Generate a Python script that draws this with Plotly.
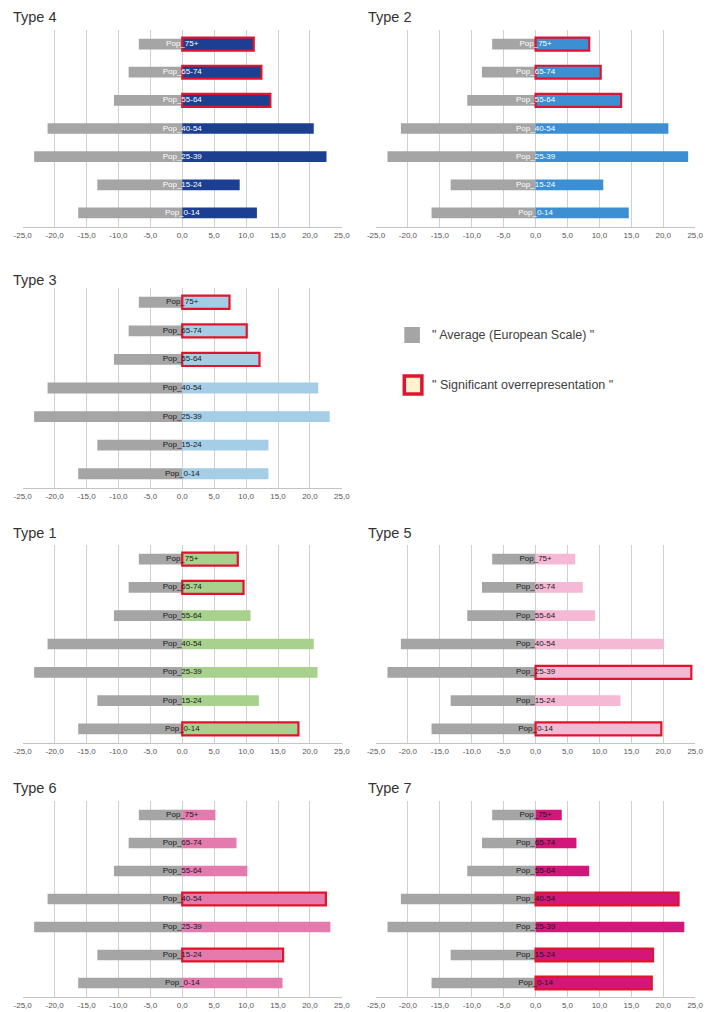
import plotly.graph_objects as go

# ---------------- data ----------------
age_groups = ["Pop_75+", "Pop_65-74", "Pop_55-64", "Pop_40-54", "Pop_25-39", "Pop_15-24", "Pop_0-14"]
average_eu = [-6.8, -8.4, -10.7, -21.1, -23.2, -13.3, -16.3]

type4 = [11.2, 12.4, 13.8, 20.6, 22.6, 9.0, 11.7]
type2 = [8.4, 10.2, 13.4, 20.8, 23.9, 10.6, 14.6]
type3 = [7.4, 10.1, 12.1, 21.3, 23.1, 13.5, 13.5]
type1 = [8.7, 9.6, 10.7, 20.6, 21.2, 12.0, 18.2]
type5 = [6.2, 7.4, 9.3, 20.0, 24.4, 13.3, 19.7]
type6 = [5.2, 8.5, 10.2, 22.5, 23.2, 15.8, 15.7]
type7 = [4.1, 6.4, 8.4, 22.4, 23.3, 18.4, 18.2]

sig4 = [1, 1, 1, 0, 0, 0, 0]
sig2 = [1, 1, 1, 0, 0, 0, 0]
sig3 = [1, 1, 1, 0, 0, 0, 0]
sig1 = [1, 1, 0, 0, 0, 0, 1]
sig5 = [0, 0, 0, 0, 1, 0, 1]
sig6 = [0, 0, 0, 1, 0, 1, 0]
sig7 = [0, 0, 0, 1, 0, 1, 1]

tick_values = [-25, -20, -15, -10, -5, 0, 5, 10, 15, 20, 25]
tick_labels = ["-25,0", "-20,0", "-15,0", "-10,0", "-5,0", "0,0", "5,0", "10,0", "15,0", "20,0", "25,0"]

legend_labels = ['" Average (European Scale) "', '" Significant overrepresentation "']

# ---------------- styling / layout ----------------
W, H = 710, 1012
FONT = "Liberation Sans, Arial, sans-serif"
GRAY = "#a5a5a5"
RED = "#e0142d"

# name, values, significance, color, label color, column, (top px, bottom px), title pos
panels = [
    ("Type 4", type4, sig4, "#1d3f91", "#ffffff", 0, (30, 227), (2, 17)),
    ("Type 2", type2, sig2, "#3b8fd2", "#ffffff", 1, (30, 227), (366, 17)),
    ("Type 3", type3, sig3, "#a5cde6", "#1a1a1a", 0, (288, 488), (2, 280)),
    ("Type 1", type1, sig1, "#a9d18e", "#1a1a1a", 0, (545, 743), (2, 533)),
    ("Type 5", type5, sig5, "#f5b9d5", "#1a1a1a", 1, (545, 743), (366, 533)),
    ("Type 6", type6, sig6, "#e47aae", "#1a1a1a", 0, (801, 997), (2, 788)),
    ("Type 7", type7, sig7, "#d4157a", "#1a1a1a", 1, (801, 997), (366, 788)),
]
col_x = [(14, 341), (376, 703)]


def px_x(v):
    return v / W


def px_y(v):
    return 1 - v / H


fig = go.Figure()
annotations = []
shapes = []

for i, (name, vals, sig, color, lblcol, col, (ytop, ybot), (tx, ty)) in enumerate(panels):
    n = "" if i == 0 else str(i + 1)
    xa, ya = "x" + n, "y" + n
    fig.add_trace(go.Bar(
        x=average_eu, y=age_groups, orientation="h", xaxis=xa, yaxis=ya,
        marker=dict(color=GRAY, line=dict(width=0)), width=0.38,
        showlegend=False, hoverinfo="x+y",
    ))
    fig.add_trace(go.Bar(
        x=vals, y=age_groups, orientation="h", xaxis=xa, yaxis=ya,
        marker=dict(color=color,
                    line=dict(color=[RED if s else color for s in sig],
                              width=[2.2 if s else 0 for s in sig])),
        width=[0.46 if s else 0.38 for s in sig],
        showlegend=False, hoverinfo="x+y",
    ))
    fig.add_trace(go.Scatter(
        x=[0] * len(age_groups), y=age_groups, mode="text", text=age_groups,
        textposition="middle center", xaxis=xa, yaxis=ya,
        textfont=dict(size=8, color=lblcol, family=FONT),
        showlegend=False, hoverinfo="skip",
    ))
    x0, x1 = col_x[col]
    fig.layout["xaxis" + n] = dict(
        domain=[px_x(x0), px_x(x1)], anchor=ya, range=[-25, 25],
        tickmode="array", tickvals=tick_values, ticktext=tick_labels,
        showgrid=True, gridcolor="#d0d0d0", gridwidth=1, zeroline=False,
        showline=True, linecolor="#c4c4c4", linewidth=1,
        tickfont=dict(size=8, color="#555555", family=FONT), ticks="",
        fixedrange=True,
    )
    fig.layout["yaxis" + n] = dict(
        domain=[px_y(ybot), px_y(ytop)], anchor=xa, type="category",
        categoryorder="array", categoryarray=age_groups, autorange="reversed",
        showgrid=False, showticklabels=False, zeroline=False, showline=False,
        ticks="", fixedrange=True,
    )
    annotations.append(dict(
        text=name, x=px_x(tx), y=px_y(ty), xref="paper", yref="paper",
        xanchor="left", yanchor="middle", showarrow=False,
        font=dict(size=14.5, color="#333333", family=FONT),
    ))

# legend (drawn manually)
shapes.append(dict(type="rect", xref="paper", yref="paper",
                   x0=px_x(405), x1=px_x(421), y0=px_y(343), y1=px_y(327),
                   fillcolor=GRAY, line=dict(width=0)))
shapes.append(dict(type="rect", xref="paper", yref="paper",
                   x0=px_x(405), x1=px_x(423), y0=px_y(394), y1=px_y(376),
                   fillcolor="#fff3cf", line=dict(color=RED, width=3.5)))
annotations.append(dict(text=legend_labels[0], x=px_x(431), y=px_y(335),
                        xref="paper", yref="paper", xanchor="left", yanchor="middle",
                        showarrow=False, font=dict(size=12.5, color="#404040", family=FONT)))
annotations.append(dict(text=legend_labels[1], x=px_x(431), y=px_y(385),
                        xref="paper", yref="paper", xanchor="left", yanchor="middle",
                        showarrow=False, font=dict(size=12.5, color="#404040", family=FONT)))

fig.update_layout(
    width=W, height=H, margin=dict(l=0, r=0, t=0, b=0),
    paper_bgcolor="white", plot_bgcolor="white",
    barmode="overlay", annotations=annotations, shapes=shapes,
    showlegend=False, font=dict(family=FONT),
)

fig.write_html(
    "out.html",
    config={"displayModeBar": False},
    post_script="document.body.style.margin='0';document.body.style.padding='0';document.body.style.overflow='hidden';",
)
